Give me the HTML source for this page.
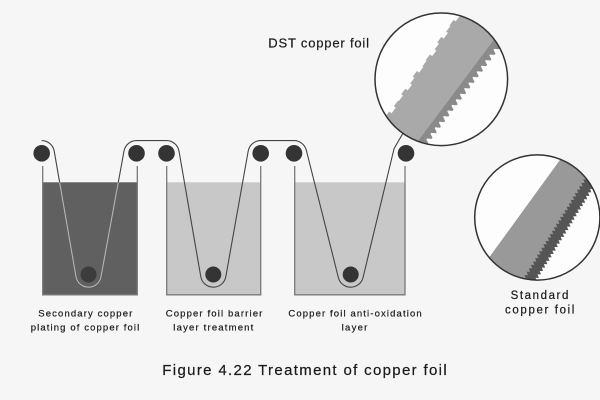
<!DOCTYPE html>
<html><head><meta charset="utf-8"><style>
html,body{margin:0;padding:0;background:#f6f6f6;}
svg{display:block;}
text{font-family:"Liberation Sans",Arial,sans-serif;fill:#1a1a1a;stroke:#1a1a1a;stroke-width:0.2;}
</style></head><body>
<svg width="600" height="400" viewBox="0 0 600 400" xmlns="http://www.w3.org/2000/svg">
<rect width="600" height="400" fill="#f6f6f6"/>
<defs>
<clipPath id="t1"><rect x="42.7" y="182.3" width="94.6" height="112.5"/></clipPath>
<clipPath id="c1"><circle cx="441.3" cy="79.3" r="66.3"/></clipPath>
<clipPath id="c2"><circle cx="537.3" cy="217.5" r="62.6"/></clipPath>
</defs>

<!-- liquids -->
<rect x="42.7" y="182.3" width="94.6" height="112.5" fill="#606060"/>
<rect x="166.7" y="182.3" width="94" height="112.5" fill="#c8c8c8"/>
<rect x="294.7" y="182.3" width="110.3" height="112.5" fill="#c8c8c8"/>
<!-- tank walls -->
<g fill="none" stroke="#7a7a7a" stroke-width="1.3">
<path d="M42.7 166 V294.8 H137.3 V166"/>
<path d="M166.7 166 V294.8 H260.7 V166"/>
<path d="M294.7 166 V294.8 H405 V166"/>
</g>

<!-- foil -->
<path d="M41.7 140.6 A12.7 12.7 0 0 1 54.21 151.13 L75.99 276.67 A12.7 12.7 0 0 0 100.99 276.79 L124.01 151.01 A12.7 12.7 0 0 1 136.5 140.6 L166.5 140.6 A12.7 12.7 0 0 1 179.01 151.13 L200.79 276.67 A12.7 12.7 0 0 0 225.8 276.73 L248.2 151.07 A12.7 12.7 0 0 1 260.7 140.6 L294 140.6 A12.7 12.7 0 0 1 306.32 150.2 L338.38 277.6 A12.7 12.7 0 0 0 363.05 277.47 L393.65 150.33 A12.7 12.7 0 0 1 395 146.95 L406 128" fill="none" stroke="#444" stroke-width="1.1"/>
<g clip-path="url(#t1)">
<path d="M41.7 140.6 A12.7 12.7 0 0 1 54.21 151.13 L75.99 276.67 A12.7 12.7 0 0 0 100.99 276.79 L124.01 151.01" fill="none" stroke="#b8b8b8" stroke-width="1.1"/>
</g>

<!-- rollers -->
<g fill="#343434">
<circle cx="41.7" cy="153.3" r="8.3"/>
<circle cx="136.5" cy="153.3" r="8.3"/>
<circle cx="166.5" cy="153.3" r="8.3"/>
<circle cx="260.7" cy="153.3" r="8.3"/>
<circle cx="294" cy="153.3" r="8.3"/>
<circle cx="406" cy="153.3" r="8.3"/>
<circle cx="88.5" cy="274.5" r="8" fill="#3c3c3c"/>
<circle cx="213.3" cy="274.5" r="8"/>
<circle cx="350.7" cy="274.5" r="8"/>
</g>

<!-- DST magnifier -->
<circle cx="441.3" cy="79.3" r="66.3" fill="#fdfdfd"/>
<g clip-path="url(#c1)">
<g transform="translate(441.3 79.3) rotate(36.87)">
<polygon fill="#a9a9a9" points="-24.5,-76 -24.5,-69 -26.4,-69 -26.4,-62 -23.3,-62 -23.3,-55 -25.8,-55 -25.8,-48 -24.7,-48 -24.7,-41 -22.5,-41 -22.5,-34 -25.4,-34 -25.4,-27 -23.3,-27 -23.3,-20 -21.2,-20 -21.2,-13 -24,-13 -24,-6 -22.9,-6 -22.9,1 -21.8,1 -21.8,8 -24.5,8 -24.5,15 -22.4,15 -22.4,22 -20.3,22 -20.3,29 -23.1,29 -23.1,36 -20.9,36 -20.9,43 -21.8,43 -21.8,50 -19.4,50 -19.4,57 -22.3,57 -22.3,64 -20,64 -20,71 -21.9,71 -21.9,78 18.6,78 18.6,-76"/>
<polygon fill="#8a8a8a" points="18.4,-76 24,-76 28,-74 28,-72.5 24,-70 24,-69 28,-67 28,-65.5 24,-63 24,-62 28,-60 28,-58.5 24,-56 24,-55 28,-53 28,-51.5 24,-49 24,-48 28,-46 28,-44.5 24,-42 24,-41 28,-39 28,-37.5 24,-35 24,-34 28,-32 28,-30.5 24,-28 24,-27 28,-25 28,-23.5 24,-21 24,-20 28,-18 28,-16.5 24,-14 24,-13 28,-11 28,-9.5 24,-7 24,-6 28,-4 28,-2.5 24,0 24,1 28,3 28,4.5 24,7 24,8 28,10 28,11.5 24,14 24,15 28,17 28,18.5 24,21 24,22 28,24 28,25.5 24,28 24,29 28,31 28,32.5 24,35 24,36 28,38 28,39.5 24,42 24,43 28,45 28,46.5 24,49 24,50 28,52 28,53.5 24,56 24,57 28,59 28,60.5 24,63 24,64 28,66 28,67.5 24,70 24,71 28,73 28,74.5 24,77 18.4,77"/>
</g>
</g>
<circle cx="441.3" cy="79.3" r="66.3" fill="none" stroke="#333" stroke-width="1.5"/>

<!-- Standard magnifier -->
<circle cx="537.3" cy="217.5" r="62.6" fill="#fdfdfd"/>
<g clip-path="url(#c2)">
<g transform="translate(537.3 217.5) rotate(36)">
<polygon fill="#999999" points="-15.5,-72 -15.5,72 31.8,72 20.6,-72"/>
<polyline fill="none" stroke="#555555" stroke-width="6" stroke-linejoin="miter" points="19.2,-70 22.4,-68 19.55,-66 22.7,-64 19.9,-62 23,-60 20.2,-58 23.3,-56 20.5,-54 23.6,-52 20.8,-50 24,-48 21.1,-46 24.3,-44 21.4,-42 24.6,-40 21.7,-38 24.9,-36 22,-34 25.2,-32 22.4,-30 25.5,-28 22.7,-26 25.8,-24 23,-22 26.1,-20 23.3,-18 26.5,-16 23.6,-14 26.8,-12 23.9,-10 27.1,-8 24.2,-6 27.4,-4 24.5,-2 27.7,0 24.9,2 28,4 25.2,6 28.3,8 25.5,10 28.6,12 25.8,14 29,16 26.1,18 29.3,20 26.4,22 29.6,24 26.7,26 29.9,28 27,30 30.2,32 27.4,34 30.5,36 27.7,38 30.8,40 28,42 31.1,44 28.3,46 31.4,48 28.6,50 31.8,52 28.9,54 32.1,56 29.2,58 32.4,60 29.5,62 32.7,64 29.8,66 33,68 30.2,70"/>
</g>
</g>
<circle cx="537.3" cy="217.5" r="62.6" fill="none" stroke="#333" stroke-width="1.5"/>

<!-- labels -->
<text x="268.3" y="47.7" font-size="13" textLength="100.7" lengthAdjust="spacing">DST copper foil</text>
<text x="539.5" y="299" font-size="11.5" text-anchor="middle" textLength="57.7" lengthAdjust="spacing">Standard</text>
<text x="539.7" y="313.3" font-size="11.5" text-anchor="middle" textLength="69.3" lengthAdjust="spacing">copper foil</text>

<text x="85.3" y="316.7" font-size="9.5" text-anchor="middle" textLength="94" lengthAdjust="spacing">Secondary copper</text>
<text x="85" y="330.7" font-size="9.5" text-anchor="middle" textLength="108.6" lengthAdjust="spacing">plating of copper foil</text>
<text x="214" y="316.7" font-size="9.5" text-anchor="middle" textLength="96.6" lengthAdjust="spacing">Copper foil barrier</text>
<text x="213.3" y="330.7" font-size="9.5" text-anchor="middle" textLength="80" lengthAdjust="spacing">layer treatment</text>
<text x="355" y="316.7" font-size="9.5" text-anchor="middle" textLength="133.3" lengthAdjust="spacing">Copper foil anti-oxidation</text>
<text x="354.5" y="330.7" font-size="9.5" text-anchor="middle" textLength="25.7" lengthAdjust="spacing">layer</text>

<text x="304.5" y="375" font-size="15" text-anchor="middle" textLength="284.4" lengthAdjust="spacing">Figure 4.22 Treatment of copper foil</text>
</svg>
</body></html>
